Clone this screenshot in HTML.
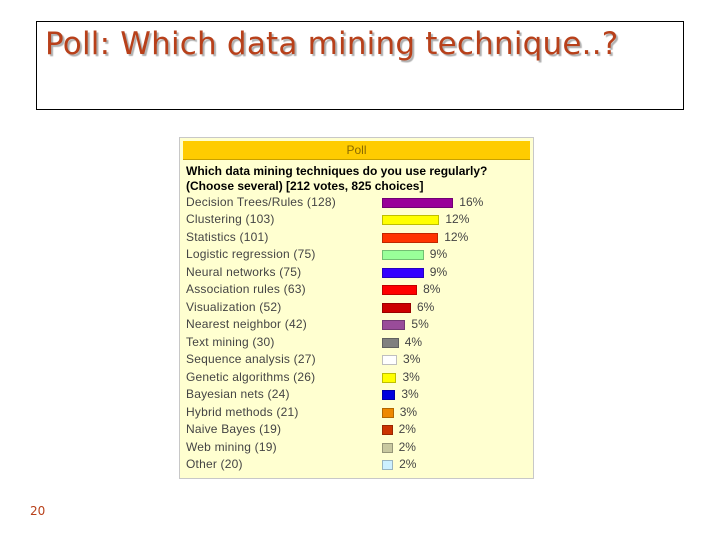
<!DOCTYPE html>
<html><head><meta charset="utf-8">
<style>
body{margin:0;width:720px;height:540px;background:#fff;position:relative;overflow:hidden;font-family:"Liberation Sans",Arial,sans-serif}
#titlebox{position:absolute;left:36px;top:21px;width:648px;height:89px;border:1px solid #000;box-sizing:border-box}
#title{position:absolute;left:8px;top:4px;font-family:"DejaVu Sans",sans-serif;font-size:31px;color:#b8401a;text-shadow:2px 2px 1px #b0b0b0;white-space:nowrap;letter-spacing:0.2px}
#panel{position:absolute;left:179px;top:137px;width:355px;height:342px;background:#ffffd0;border:1px solid #c8c8c8;box-sizing:border-box}
#header{position:absolute;left:3px;top:3px;width:347px;height:18px;background:#ffcc00;border-bottom:1px solid #c8a000;text-align:center;font-size:12px;line-height:18px;color:#8a6a00}
#question{position:absolute;left:6px;top:26px;font-size:12px;font-weight:bold;line-height:15px;color:#000}
.lbl{position:absolute;left:6px;font-size:12px;color:#444;white-space:nowrap;letter-spacing:0.2px}
.bar{position:absolute;left:202px;height:10px;box-sizing:border-box;border:1px solid rgba(0,0,0,0.25)}
.pct{position:absolute;font-size:12px;color:#444}
#pagenum{position:absolute;left:30px;top:504px;font-size:12px;color:#b8401a;font-family:"DejaVu Sans",sans-serif}
</style></head><body>
<div id="titlebox">
<div id="title">Poll: Which data mining technique..?</div>
</div>
<div id="panel">
<div id="header">Poll</div>
<div id="question">Which data mining techniques do you use regularly?<br>(Choose several) [212 votes, 825 choices]</div>
</div>
<div id="pagenum">20</div>
<script>
const categories=["Decision Trees/Rules","Clustering","Statistics","Logistic regression","Neural networks","Association rules","Visualization","Nearest neighbor","Text mining","Sequence analysis","Genetic algorithms","Bayesian nets","Hybrid methods","Naive Bayes","Web mining","Other"];
const votes=[128,103,101,75,75,63,52,42,30,27,26,24,21,19,19,20];
const percents=[16,12,12,9,9,8,6,5,4,3,3,3,3,2,2,2];
const colors=["#990099","#ffff00","#ff3300","#99ff99","#3300ff","#ff0000","#cc0000","#994c99","#808080","#ffffff","#ffff00","#0000dd","#ee8800","#cc3300","#c8c8a0","#ccf0ff"];
const panel=document.getElementById('panel');
const rowTop=58, rowStep=17.47, pxPerVote=0.557;
function y(i){return rowTop+i*rowStep;}
function w(v){return v*pxPerVote;}
categories.forEach((c,i)=>{
  const l=document.createElement('div');l.className='lbl';
  
  
  l.style.top=(y(i)-1)+'px';l.textContent=c+' ('+votes[i]+')';panel.appendChild(l);
  const b=document.createElement('div');b.className='bar';
  
  
  b.style.top=(y(i)+2)+'px';b.style.width=w(votes[i])+'px';b.style.background=colors[i];panel.appendChild(b);
  const p=document.createElement('div');p.className='pct';
  
  
  p.style.top=(y(i)-1)+'px';p.style.left=(202+w(votes[i])+6)+'px';p.textContent=percents[i]+'%';panel.appendChild(p);
});
</script>
</body></html>
